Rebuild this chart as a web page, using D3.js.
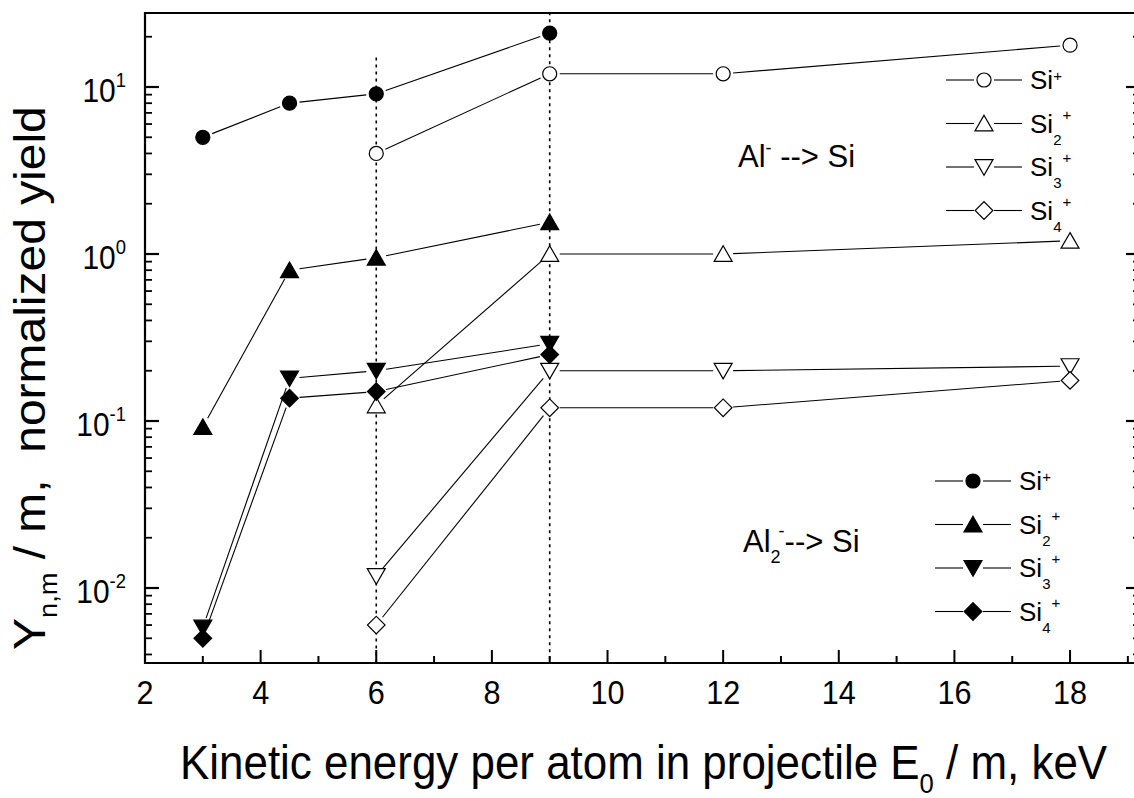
<!DOCTYPE html>
<html>
<head>
<meta charset="utf-8">
<title>yield</title>
<style>
    body { margin: 0; background: #fff; }
    text { font-family: "Liberation Sans", Arial, sans-serif; fill: #000; white-space: pre; }
    .axis-line { stroke: #000; stroke-width: 2.2px; fill: none; }
    .tick { stroke: #000; fill: none; }
    .link { stroke: #000; stroke-width: 1.1px; fill: none; }
    .guide { stroke: #000; stroke-width: 1.6px; stroke-dasharray: 3,4; fill: none; }
</style>
</head>
<body>
<script src="https://cdn.jsdelivr.net/npm/d3@7"></script>
<script>
    // energies (keV per atom)
    var energyAl2 = [3, 4.5, 6, 9];
    var energyAl = [6, 9, 12, 18];

    // Al2- --> Si (filled symbols)
    var al2Si1 = [5.0, 8.0, 9.1, 21];
    var al2Si2 = [0.092, 0.80, 0.95, 1.55];
    var al2Si3 = [0.0058, 0.18, 0.20, 0.29];
    var al2Si4 = [0.0050, 0.137, 0.15, 0.25];

    // Al- --> Si (open symbols)
    var alSi1 = [4.0, 12, 12, 17.8];
    var alSi2 = [0.124, 1.0, 1.0, 1.2];
    var alSi3 = [0.0118, 0.20, 0.20, 0.213];
    var alSi4 = [0.006, 0.12, 0.12, 0.175];

    var clusterSizes = ["", "2", "3", "4"];
    var shapes = ["circle", "up", "down", "diamond"];

    // vertical dotted guides: energy, and the yield where each starts
    var guideEnergy = [6, 9];
    var guideTop = [15, 28];

    var xMajorTicks = [2, 4, 6, 8, 10, 12, 14, 16, 18];
    var xMinorTicks = [3, 5, 7, 9, 11, 13, 15, 17, 19];
    var yDecades = [-2, -1, 0, 1];

    var W = 1134, H = 798;
    var plot = {left: 145, right: 1140, top: 13, bottom: 663};

    var x = d3.scaleLinear().domain([2, 19.21]).range([plot.left, plot.right]);
    var y = d3.scaleLog().domain([0.003556, 27.74]).range([plot.bottom, plot.top]);

    var svg = d3.select("body").append("svg")
        .attr("width", W)
        .attr("height", H);

    // dotted guide lines
    guideEnergy.forEach(function (e, i) {
        svg.append("line").attr("class", "guide")
            .attr("x1", x(e)).attr("x2", x(e))
            .attr("y1", y(guideTop[i])).attr("y2", plot.bottom);
    });

    // ---- axes frame ----
    svg.append("path").attr("class", "axis-line")
        .attr("d", "M" + plot.left + "," + plot.top + "V" + plot.bottom + "H" + plot.right + "V" + plot.top + "Z");

    // log minor ticks
    var yMinor = [];
    yDecades.concat([-3]).forEach(function (k) {
        for (var m = 2; m <= 9; m++) {
            var v = m * Math.pow(10, k);
            if (v >= y.domain()[0] && v <= y.domain()[1]) yMinor.push(v);
        }
    });

    [plot.left, plot.right].forEach(function (x0, side) {
        var dir = side === 0 ? 1 : -1;
        svg.selectAll(null).data(yDecades).enter().append("line")
            .attr("class", "tick").style("stroke-width", 2.2)
            .attr("x1", x0).attr("x2", x0 + dir * 14)
            .attr("y1", function (k) { return y(Math.pow(10, k)); })
            .attr("y2", function (k) { return y(Math.pow(10, k)); });
        svg.selectAll(null).data(yMinor).enter().append("line")
            .attr("class", "tick").style("stroke-width", 1.8)
            .attr("x1", x0).attr("x2", x0 + dir * 7)
            .attr("y1", function (v) { return y(v); })
            .attr("y2", function (v) { return y(v); });
    });

    svg.selectAll(null).data(xMajorTicks).enter().append("line")
        .attr("class", "tick").style("stroke-width", 2)
        .attr("x1", function (d) { return x(d); }).attr("x2", function (d) { return x(d); })
        .attr("y1", plot.bottom).attr("y2", plot.bottom - 13);
    svg.selectAll(null).data(xMinorTicks).enter().append("line")
        .attr("class", "tick").style("stroke-width", 2)
        .attr("x1", function (d) { return x(d); }).attr("x2", function (d) { return x(d); })
        .attr("y1", plot.bottom).attr("y2", plot.bottom - 7);

    // tick labels
    svg.selectAll(null).data(xMajorTicks).enter().append("text")
        .attr("transform", function (d) { return "translate(" + x(d) + "," + (plot.bottom + 41) + ") scale(0.9,1)"; })
        .attr("text-anchor", "middle")
        .style("font-size", "34px")
        .text(function (d) { return d; });

    var yLab = svg.selectAll(null).data(yDecades).enter().append("text")
        .attr("transform", function (k) { return "translate(126," + (y(Math.pow(10, k)) + 15) + ") scale(0.88,1)"; })
        .attr("text-anchor", "end");
    yLab.append("tspan").style("font-size", "34px").text("10");
    yLab.append("tspan").style("font-size", "21px").attr("dy", -15)
        .text(function (k) { return k < 0 ? "-" + (-k) : k; });

    // axis titles
    var xt = svg.append("text")
        .attr("transform", "translate(180,779) scale(0.915,1)")
        .style("font-size", "48px");
    xt.append("tspan").text("Kinetic energy per atom in projectile E");
    xt.append("tspan").attr("dy", 14).style("font-size", "28px").text("0");
    xt.append("tspan").attr("dy", -14).text(" / m, keV");

    var yt = svg.append("text")
        .attr("transform", "translate(45,650) rotate(-90) scale(1.09,1)")
        .style("font-size", "44px");
    yt.append("tspan").text("Y");
    yt.append("tspan").attr("dy", 12).style("font-size", "25px").text("n,m");
    yt.append("tspan").attr("dy", -12).text(" / m,  normalized yield");

    // ---- markers ----
    function symbolPath(shape) {
        if (shape === "circle") return d3.symbol().type(d3.symbolCircle).size(155)();
        if (shape === "diamond") return d3.symbol().type(d3.symbolSquare).size(155)();
        return d3.symbol().type(d3.symbolTriangle).size(140)();
    }
    function symbolRotate(shape) {
        if (shape === "down") return 180;
        if (shape === "diamond") return 45;
        return 0;
    }
    function symbolOffset(shape) {
        // centre triangles on their bounding box
        if (shape === "up") return -2.2;
        if (shape === "down") return 2.2;
        return 0;
    }
    function marker(g, cx, cy, shape, filled) {
        g.append("path")
            .attr("d", symbolPath(shape))
            .attr("transform", "translate(" + cx + "," + (cy - symbolOffset(shape)) + ") rotate(" + symbolRotate(shape) + ")")
            .style("fill", filled ? "#000" : "#fff")
            .style("stroke", "#000")
            .style("stroke-width", 1.2);
    }

    var gap = 10;
    var line = d3.line();
    function drawSeries(energies, values, shape, filled) {
        var g = svg.append("g");
        var pts = energies.map(function (e, i) { return [x(e), y(values[i])]; });
        for (var i = 0; i < pts.length - 1; i++) {
            var p = pts[i], q = pts[i + 1];
            var dx = q[0] - p[0], dy = q[1] - p[1];
            var len = Math.sqrt(dx * dx + dy * dy);
            if (len <= 2 * gap) continue;
            var ux = dx / len, uy = dy / len;
            g.append("path").attr("class", "link")
                .attr("d", line([[p[0] + ux * gap, p[1] + uy * gap], [q[0] - ux * gap, q[1] - uy * gap]]));
        }
        pts.forEach(function (p) { marker(g, p[0], p[1], shape, filled); });
    }

    var openSeries = [alSi1, alSi2, alSi3, alSi4];
    var filledSeries = [al2Si1, al2Si2, al2Si3, al2Si4];
    openSeries.forEach(function (vals, i) { drawSeries(energyAl, vals, shapes[i], false); });
    filledSeries.forEach(function (vals, i) { drawSeries(energyAl2, vals, shapes[i], true); });

    // ---- legends ----
    function legend(x0, y0, filled) {
        clusterSizes.forEach(function (n, i) {
            var ry = y0 + i * 43.5;
            var g = svg.append("g");
            g.append("line").attr("class", "link").attr("x1", x0).attr("x2", x0 + 28).attr("y1", ry).attr("y2", ry);
            g.append("line").attr("class", "link").attr("x1", x0 + 48).attr("x2", x0 + 76).attr("y1", ry).attr("y2", ry);
            marker(g, x0 + 38, ry, shapes[i], filled);
            var t = g.append("text").attr("x", x0 + 84).attr("y", ry + 9).style("font-size", "26px");
            t.append("tspan").text("Si");
            if (n) {
                t.append("tspan").attr("dy", 12).style("font-size", "15px").text(n);
                t.append("tspan").attr("dy", -25).attr("dx", 1).style("font-size", "15px").text("+");
            } else {
                t.append("tspan").attr("dy", -8).style("font-size", "15px").text("+");
            }
        });
    }
    legend(946, 80, false);
    legend(935, 481, true);

    // ---- annotations ----
    var a1 = svg.append("text").attr("x", 738).attr("y", 167).style("font-size", "31px");
    a1.append("tspan").text("Al");
    a1.append("tspan").attr("dy", -13).style("font-size", "18px").text("-");
    a1.append("tspan").attr("dy", 13).text(" --> Si");

    var a2 = svg.append("text").attr("x", 743).attr("y", 552).style("font-size", "31px");
    a2.append("tspan").text("Al");
    a2.append("tspan").attr("dy", 11).style("font-size", "18px").text("2");
    a2.append("tspan").attr("dy", -26).attr("dx", -2).style("font-size", "18px").text("-");
    a2.append("tspan").attr("dy", 15).text("--> Si");
</script>
</body>
</html>
